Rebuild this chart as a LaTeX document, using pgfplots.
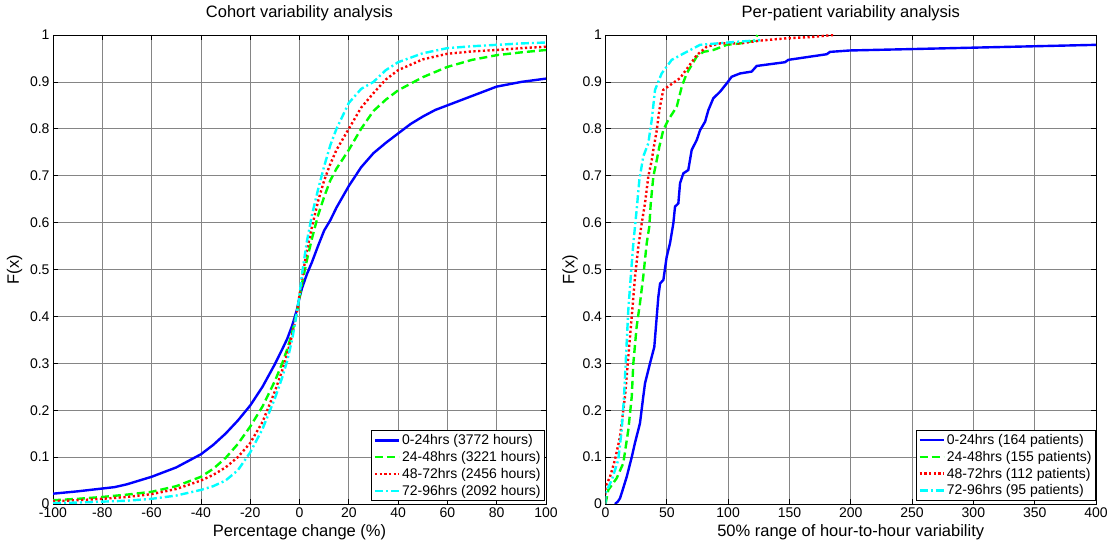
\documentclass[border=0pt]{standalone}
\usepackage{fontspec}
\setmainfont{Liberation Sans}
\usepackage{pgfplots}
\pgfplotsset{compat=1.18}
\definecolor{mblue}{RGB}{0,0,255}
\definecolor{mgreen}{RGB}{0,255,0}
\definecolor{mred}{RGB}{255,0,0}
\definecolor{mcyan}{RGB}{0,255,255}
\pgfplotsset{mstyle/.style={
  scale only axis, height=469bp,
  ymin=0, ymax=1,
  ytick={0,0.1,0.2,0.3,0.4,0.5,0.6,0.7,0.8,0.9,1},
  yticklabels={0,0.1,0.2,0.3,0.4,0.5,0.6,0.7,0.8,0.9,1},
  font=\fontsize{14bp}{16bp}\selectfont,
  grid=major, major grid style={black!48, line width=0.7bp},
  axis line style={line width=0.8bp},
  tick align=inside, major tick length=5bp,
  tick style={black, line width=0.7bp},
  title style={font=\fontsize{16.5bp}{19bp}\selectfont, at={(axis description cs:0.5,1.034)}, anchor=center},
  label style={font=\fontsize{16.5bp}{19bp}\selectfont},
  xlabel style={at={(axis description cs:0.5,-0.0597)}, anchor=center},
  legend style={draw=black, line width=0.8bp, font=\fontsize{14bp}{17.5bp}\selectfont,
     cells={anchor=west}, inner sep=2bp, row sep=1.2bp},
  legend image code/.code={\draw[#1] (0bp,0bp) -- (24bp,0bp);},
  legend cell align=left,
}}
\begin{document}
\begin{tikzpicture}
\useasboundingbox (0,0) rectangle (1113bp,542bp);
\begin{axis}[mstyle, at={(53bp,38bp)}, anchor=south west, width=493bp,
  xmin=-100, xmax=100,
  xtick={-100,-80,-60,-40,-20,0,20,40,60,80,100},
  xticklabels={-100,-80,-60,-40,-20,0,20,40,60,80,100},
  title={Cohort variability analysis},
  xlabel={Percentage change (\%)},
  ylabel={F(x)},
  ylabel style={at={(axis description cs:-0.078,0.5)}, anchor=center},
  legend style={at={(0.998,0.0064)}, anchor=south east}]
\addplot[mblue, line width=2.4bp] coordinates {
(-100,0.022) (-90,0.027) (-80,0.033) (-75,0.036) (-70,0.042) (-60,0.058) (-50,0.078) (-45,0.092) (-40,0.106) (-35,0.126) (-30,0.150) (-25,0.178) (-20,0.210) (-15,0.250) (-10,0.298) (-7,0.330) (-5,0.352) (-3,0.380) (-1,0.415) (0,0.44) (1,0.46) (3,0.49) (5,0.515) (7.5,0.55) (10,0.583) (12.5,0.605) (15,0.632) (20,0.678) (25,0.718) (30,0.748) (35,0.77) (40,0.79) (45,0.81) (50,0.826) (55,0.84) (60,0.85) (65,0.86) (70,0.87) (75,0.88) (80,0.89) (90,0.90) (100,0.907)};
\addlegendentry{0-24hrs (3772 hours)}
\addplot[mgreen, line width=2.4bp, dash pattern=on 8bp off 4bp] coordinates {
(-100,0.008) (-90,0.011) (-80,0.015) (-70,0.02) (-60,0.026) (-50,0.038) (-40,0.058) (-35,0.075) (-30,0.098) (-25,0.128) (-20,0.165) (-15,0.208) (-10,0.262) (-7,0.30) (-5,0.33) (-3,0.365) (-1,0.41) (0,0.44) (1,0.47) (3,0.52) (5,0.565) (7.5,0.615) (10,0.655) (12.5,0.69) (15,0.715) (20,0.755) (25,0.80) (30,0.838) (35,0.862) (40,0.882) (50,0.91) (60,0.932) (70,0.947) (80,0.957) (90,0.963) (100,0.968)};
\addlegendentry{24-48hrs (3221 hours)}
\addplot[mred, line width=2.4bp, dash pattern=on 2.2bp off 2.5bp] coordinates {
(-100,0.006) (-90,0.008) (-80,0.011) (-70,0.015) (-60,0.021) (-50,0.032) (-40,0.05) (-35,0.062) (-30,0.078) (-25,0.10) (-20,0.13) (-15,0.175) (-10,0.24) (-7,0.285) (-5,0.32) (-3,0.36) (-1,0.41) (0,0.445) (1,0.48) (3,0.54) (5,0.59) (7.5,0.645) (10,0.69) (12.5,0.725) (15,0.755) (20,0.80) (25,0.845) (30,0.876) (35,0.905) (40,0.925) (50,0.948) (60,0.96) (70,0.965) (80,0.968) (90,0.972) (100,0.975)};
\addlegendentry{48-72hrs (2456 hours)}
\addplot[mcyan, line width=2.4bp, dash pattern=on 8bp off 3bp on 2bp off 3bp] coordinates {
(-100,0.002) (-90,0.003) (-80,0.005) (-70,0.007) (-60,0.011) (-50,0.018) (-40,0.03) (-35,0.038) (-30,0.05) (-25,0.072) (-20,0.11) (-15,0.16) (-10,0.225) (-7,0.27) (-5,0.305) (-3,0.35) (-1,0.41) (0,0.445) (1,0.49) (3,0.56) (5,0.615) (7.5,0.67) (10,0.72) (12.5,0.765) (15,0.80) (20,0.855) (25,0.885) (30,0.90) (35,0.925) (40,0.942) (50,0.961) (60,0.972) (70,0.976) (80,0.979) (90,0.982) (100,0.984)};
\addlegendentry{72-96hrs (2092 hours)}
\end{axis}
\begin{axis}[mstyle, at={(605.5bp,38bp)}, anchor=south west, width=490.5bp,
  xmin=0, xmax=400,
  xtick={0,50,100,150,200,250,300,350,400},
  xticklabels={0,50,100,150,200,250,300,350,400},
  title={Per-patient variability analysis},
  xlabel={50\% range of hour-to-hour variability},
  ylabel={F(x)},
  ylabel style={at={(axis description cs:-0.0724,0.5)}, anchor=center},
  legend style={at={(1.0,0.007)}, anchor=south east}]
\addplot[mblue, line width=2.4bp] coordinates {
(7.7,0) (10,0.005) (11.8,0.012) (14,0.03) (17.3,0.058) (21.4,0.10) (24,0.13) (28.1,0.172) (30.8,0.229) (32.2,0.257) (36.3,0.30) (39.8,0.335) (41.8,0.40) (43.1,0.442) (44.5,0.47) (47.2,0.478) (49.9,0.527) (52.6,0.556) (55.3,0.598) (56.7,0.634) (59.4,0.641) (60.8,0.684) (63.5,0.705) (67.5,0.712) (70.3,0.755) (74.4,0.776) (77.1,0.797) (81.2,0.815) (83.9,0.84) (87.9,0.865) (93.4,0.879) (98.9,0.897) (102.9,0.911) (109.7,0.918) (119.2,0.922) (123.3,0.934) (146.4,0.942) (149.1,0.947) (180.4,0.959) (183.1,0.964) (199.4,0.967) (250,0.970) (300,0.973) (350,0.976) (400,0.979)};
\addlegendentry{0-24hrs (164 patients)}
\addplot[mgreen, line width=2.4bp, dash pattern=on 8bp off 4bp] coordinates {
(0,0) (2.3,0.03) (9.1,0.055) (14.5,0.087) (18.6,0.158) (21.4,0.229) (22.7,0.30) (25.4,0.378) (28.1,0.428) (30.8,0.485) (33.6,0.556) (35.7,0.591) (36.9,0.641) (39,0.698) (41.8,0.733) (43.9,0.762) (47.1,0.797) (51.2,0.819) (58.1,0.847) (62.2,0.89) (66.2,0.918) (74.4,0.954) (79.8,0.964) (87.9,0.968) (98.9,0.979) (109.7,0.982) (121.9,0.988) (123.8,1.0)};
\addlegendentry{24-48hrs (155 patients)}
\addplot[mred, line width=2.4bp, dash pattern=on 2.2bp off 2.5bp] coordinates {
(0,0) (0,0.037) (3.7,0.058) (7.7,0.094) (11.8,0.143) (15.9,0.229) (18.6,0.314) (21.4,0.40) (24.1,0.485) (26.8,0.549) (29.5,0.598) (32.2,0.641) (34.9,0.698) (37.7,0.733) (39,0.755) (41.8,0.797) (43.9,0.84) (47.1,0.883) (52.6,0.893) (60.8,0.908) (67.5,0.932) (74.4,0.957) (82.5,0.975) (93.4,0.982) (109.7,0.982) (126,0.988) (147.8,0.993) (169.5,0.996) (185.8,1.0)};
\addlegendentry{48-72hrs (112 patients)}
\addplot[mcyan, line width=2.4bp, dash pattern=on 8bp off 3bp on 2bp off 3bp] coordinates {
(0,0) (0,0.023) (5.1,0.051) (10.4,0.094) (13.2,0.158) (15.1,0.229) (16.7,0.314) (18.6,0.414) (20.6,0.485) (22.7,0.556) (25.4,0.627) (27.6,0.691) (30.8,0.741) (34.9,0.769) (37.7,0.819) (40.4,0.883) (45.8,0.918) (54,0.947) (66.2,0.964) (77.1,0.979) (90.7,0.982) (109.7,0.986) (126,0.989)};
\addlegendentry{72-96hrs (95 patients)}
\end{axis}
\end{tikzpicture}
\end{document}
